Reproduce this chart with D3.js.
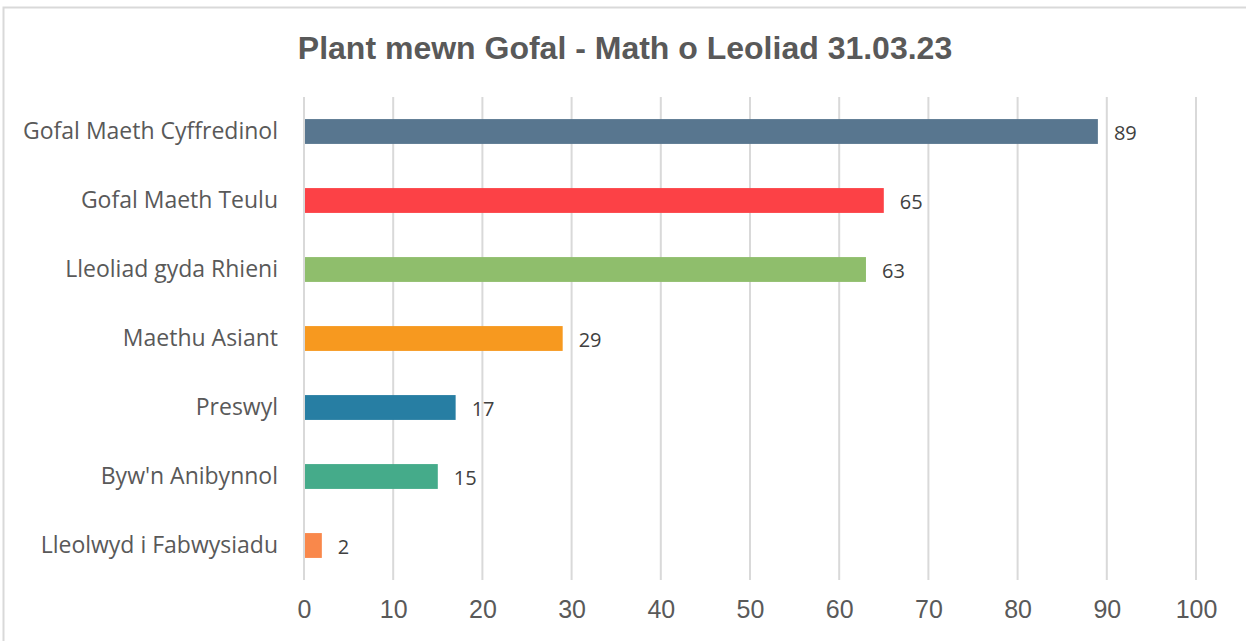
<!DOCTYPE html>
<html>
<head>
<meta charset="utf-8">
<script src="https://cdn.jsdelivr.net/npm/d3@7"></script>
<style>
  body { margin: 0; background: #fff; }
  svg { display: block; }
</style>
</head>
<body>
<svg id="chart"></svg>
<script>
const categories = ['Gofal Maeth Cyffredinol', 'Gofal Maeth Teulu', 'Lleoliad gyda Rhieni',
  'Maethu Asiant', 'Preswyl', "Byw'n Anibynnol", 'Lleolwyd i Fabwysiadu'];
const values = [89, 65, 63, 29, 17, 15, 2];
const colors = ['#58768f', '#fc4146', '#8fbe6c', '#f7991f', '#277ea3', '#45ab8a', '#f9884b'];
const xTicks = [0, 10, 20, 30, 40, 50, 60, 70, 80, 90, 100];
const title = 'Plant mewn Gofal - Math o Leoliad 31.03.23';

const width = 1246, height = 641;
const margin = {top: 97, right: 50, bottom: 61, left: 304};

const svg = d3.select('#chart').attr('width', width).attr('height', height);

// outer frame
svg.append('rect')
  .attr('x', 3.5).attr('y', 7.5)
  .attr('width', width + 10).attr('height', height + 10)
  .attr('fill', 'none').attr('stroke', '#d9d9d9').attr('stroke-width', 2);

svg.append('text')
  .attr('x', 625).attr('y', 59)
  .attr('text-anchor', 'middle')
  .attr('font-family', 'Liberation Sans, Arial, sans-serif')
  .attr('font-weight', 'bold')
  .attr('font-size', 32)
  .attr('fill', '#595959')
  .text(title);

const innerW = 1196 - margin.left;
const innerH = 580 - margin.top;

const chart = svg.append('g').attr('transform', `translate(${margin.left},${margin.top})`);

const x = d3.scaleLinear().domain([0, 100]).range([0, innerW]);
const y = d3.scaleBand().domain(categories).range([0, innerH]).paddingInner(0.64).paddingOuter(0.32);

// gridlines
chart.append('g')
  .selectAll('line')
  .data(xTicks)
  .join('line')
  .attr('x1', d => x(d)).attr('x2', d => x(d))
  .attr('y1', 0).attr('y2', innerH)
  .attr('stroke', '#d9d9d9').attr('stroke-width', 2);

// x axis labels
const xAxis = chart.append('g')
  .attr('transform', `translate(0,${innerH})`)
  .call(d3.axisBottom(x).tickValues(xTicks).tickSize(0).tickPadding(20));
xAxis.select('.domain').remove();
xAxis.selectAll('text')
  .attr('font-family', 'Liberation Sans, Arial, sans-serif')
  .attr('font-size', 25)
  .attr('fill', '#595959');

// y axis labels
const yAxis = chart.append('g')
  .call(d3.axisLeft(y).tickSize(0).tickPadding(26));
yAxis.select('.domain').remove();
yAxis.selectAll('text')
  .attr('font-family', 'Open Sans, sans-serif')
  .attr('font-size', 23)
  .attr('fill', '#595959');

// bars
chart.selectAll('.bar')
  .data(categories)
  .join('rect')
  .attr('class', 'bar')
  .attr('x', x(0) + 1)
  .attr('y', d => y(d))
  .attr('width', (d, i) => x(values[i]) - x(0) - 1)
  .attr('height', y.bandwidth())
  .attr('fill', (d, i) => colors[i]);

// value labels
chart.selectAll('.val')
  .data(categories)
  .join('text')
  .attr('class', 'val')
  .attr('x', (d, i) => x(values[i]) + 16)
  .attr('y', d => y(d) + y.bandwidth() / 2 + 1)
  .attr('dy', '0.35em')
  .attr('font-family', 'Open Sans, sans-serif')
  .attr('font-size', 20)
  .attr('fill', '#404040')
  .text((d, i) => values[i]);
</script>
</body>
</html>
